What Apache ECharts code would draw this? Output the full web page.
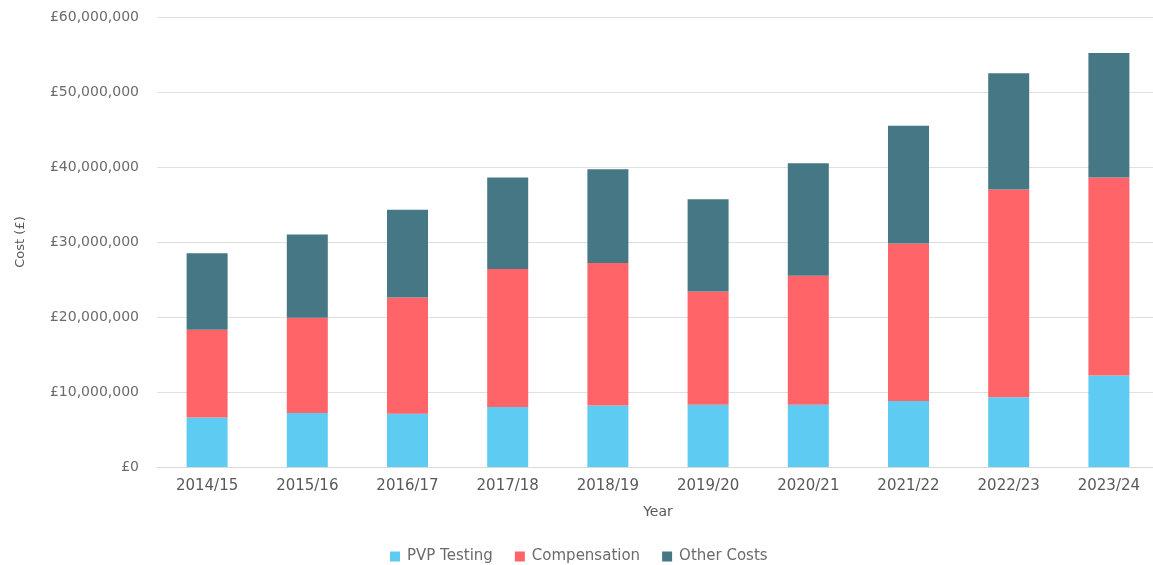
<!DOCTYPE html>
<html>
<head>
<meta charset="utf-8">
<script src="https://cdn.jsdelivr.net/npm/echarts@6/dist/echarts.min.js"></script>
<style>
  html, body { margin: 0; padding: 0; background: #fff; overflow: hidden; }
  #chart { width: 1159px; height: 565px; }
</style>
</head>
<body>
<div id="chart"></div>
<script>
// years on the x axis
var years = ['2014/15', '2015/16', '2016/17', '2017/18', '2018/19', '2019/20', '2020/21', '2021/22', '2022/23', '2023/24'];
// costs in £ millions
var pvpTesting = [6.6, 7.2, 7.1, 8.0, 8.2, 8.3, 8.3, 8.8, 9.3, 12.2];
var compensation = [11.7, 12.7, 15.5, 18.4, 19.0, 15.1, 17.2, 21.0, 27.7, 26.4];
var otherCosts = [10.2, 11.1, 11.7, 12.2, 12.5, 12.3, 15.0, 15.7, 15.5, 16.6];

function toPounds(arr) {
    return arr.map(function (v) { return Math.round(v * 1000000); });
}

var labelFont = '"DejaVu Sans", sans-serif';

var chart = echarts.init(document.getElementById('chart'));
chart.setOption({
    animation: false,
    textStyle: { fontFamily: labelFont },
    // chart div is a little wider than the window so the last bar sits where it does in the original
    grid: { left: 157, right: 0, top: 17, bottom: 98 },
    legend: {
        top: 544,
        left: 385,
        itemWidth: 10,
        itemHeight: 10,
        itemGap: 22,
        icon: 'rect',
        textStyle: { color: '#6b6b6b', fontSize: 15, fontFamily: labelFont, padding: [0, 0, 0, 2] },
        data: ['PVP Testing', 'Compensation', 'Other Costs']
    },
    xAxis: {
        type: 'category',
        data: years,
        name: 'Year',
        nameLocation: 'middle',
        nameGap: 38,
        nameTextStyle: { color: '#595959', fontSize: 14 },
        axisLine: { lineStyle: { color: '#d9d9d9' } },
        axisTick: { show: false },
        axisLabel: { color: '#595959', fontSize: 15, margin: 12 }
    },
    yAxis: {
        type: 'value',
        min: 0,
        max: 60000000,
        interval: 10000000,
        name: 'Cost (£)',
        nameLocation: 'middle',
        nameGap: 130,
        nameTextStyle: { color: '#595959', fontSize: 13 },
        axisLine: { show: false },
        axisTick: { show: false },
        splitLine: { lineStyle: { color: '#e0e0e0' } },
        axisLabel: {
            color: '#6b6b6b',
            fontSize: 14,
            margin: 18,
            formatter: function (v) {
                return '£' + v.toLocaleString('en-GB');
            }
        }
    },
    series: [
        {
            name: 'PVP Testing',
            type: 'bar',
            stack: 'cost',
            barWidth: 41,
            itemStyle: { color: '#5ecbf2' },
            data: toPounds(pvpTesting)
        },
        {
            name: 'Compensation',
            type: 'bar',
            stack: 'cost',
            barWidth: 41,
            itemStyle: { color: '#ff6468' },
            data: toPounds(compensation)
        },
        {
            name: 'Other Costs',
            type: 'bar',
            stack: 'cost',
            barWidth: 41,
            itemStyle: { color: '#467785' },
            data: toPounds(otherCosts)
        }
    ]
});
</script>
</body>
</html>
